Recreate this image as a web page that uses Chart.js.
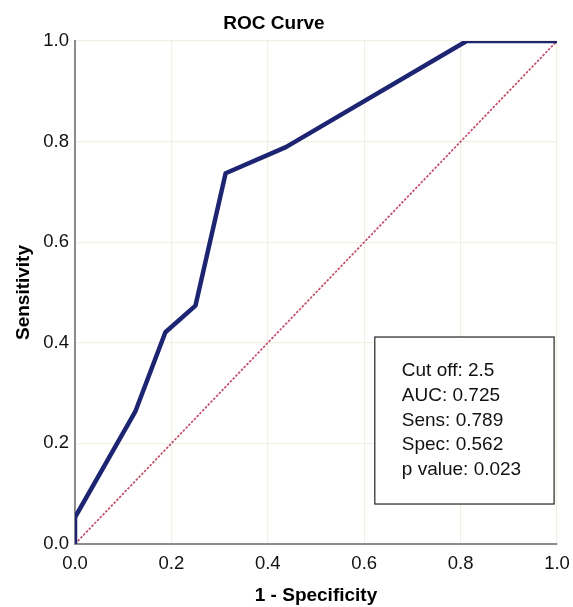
<!DOCTYPE html>
<html>
<head>
<meta charset="utf-8">
<script src="https://cdn.jsdelivr.net/npm/chart.js@4.4.1/dist/chart.umd.min.js"></script>
<style>
  html, body { margin: 0; padding: 0; background: #ffffff; }
  #wrap { width: 573px; height: 607px; position: relative; }
</style>
</head>
<body>
<div id="wrap"><canvas id="roc"></canvas></div>
<script>
// ROC curve points (1 - specificity, sensitivity)
const fpr = [0, 0, 0.125, 0.1875, 0.25, 0.3125, 0.4375, 0.8125, 1];
const tpr = [0, 0.053, 0.263, 0.421, 0.474, 0.737, 0.789, 1, 1];

// reference diagonal
const refX = [0, 1];
const refY = [0, 1];

const tickValues = [0, 0.2, 0.4, 0.6, 0.8, 1.0];
const statLines = ['Cut off: 2.5', 'AUC: 0.725', 'Sens: 0.789', 'Spec: 0.562', 'p value: 0.023'];

const FONT = "'Liberation Sans', Arial, Helvetica, sans-serif";

const toPoints = (xs, ys) => xs.map((x, i) => ({ x: x, y: ys[i] }));

// title + stats box drawn on top of the chart
const extras = {
    id: 'extras',
    afterDraw(chart) {
        const ctx = chart.ctx;
        const { x, y } = chart.scales;
        ctx.save();

        ctx.fillStyle = '#000000';
        ctx.font = 'bold 19px ' + FONT;
        ctx.textAlign = 'center';
        ctx.textBaseline = 'middle';
        ctx.fillText('ROC Curve', 274, 24);

        // stats box
        const left = x.getPixelForValue(0.622);
        const right = x.getPixelForValue(0.994);
        const top = y.getPixelForValue(0.4115);
        const bottom = y.getPixelForValue(0.0795);
        ctx.fillStyle = '#ffffff';
        ctx.fillRect(left, top, right - left, bottom - top);
        ctx.strokeStyle = '#222222';
        ctx.lineWidth = 1.2;
        ctx.strokeRect(left, top, right - left, bottom - top);

        ctx.fillStyle = '#111111';
        ctx.font = '19px ' + FONT;
        ctx.textAlign = 'left';
        statLines.forEach((t, i) => {
            ctx.fillText(t, left + 27, top + 34 + i * 24.7);
        });
        ctx.restore();
    }
};

const axisCommon = {
    type: 'linear',
    min: 0,
    max: 1,
    grid: { color: '#f2f0e4', lineWidth: 1.2, drawTicks: false },
    border: { color: '#8c8c8c', width: 2 },
};

new Chart(document.getElementById('roc'), {
    type: 'line',
    data: {
        datasets: [
            {
                label: 'ROC',
                data: toPoints(fpr, tpr),
                borderColor: '#1d2573',
                borderWidth: 4.5,
                pointRadius: 0,
                tension: 0,
                borderJoinStyle: 'round'
            },
            {
                label: 'Reference',
                data: toPoints(refX, refY),
                borderColor: '#c04d69',
                borderWidth: 1.7,
                borderDash: [2.5, 1.5],
                pointRadius: 0,
                tension: 0
            }
        ]
    },
    options: {
        responsive: true,
        maintainAspectRatio: false,
        animation: false,
        layout: { padding: { top: 41, right: 16, left: 0, bottom: 0 } },
        plugins: {
            legend: { display: false },
            tooltip: { enabled: false }
        },
        scales: {
            x: {
                ...axisCommon,
                position: 'bottom',
                afterBuildTicks: s => { s.ticks = tickValues.map(v => ({ value: v })); },
                afterFit: s => { s.height = 63; s.paddingRight = 0; s.paddingLeft = 0; },
                ticks: {
                    color: '#111111',
                    padding: 9,
                    maxRotation: 0,
                    font: { family: FONT, size: 18.5 },
                    callback: v => Number(v).toFixed(1)
                },
                title: {
                    display: true,
                    text: '1 - Specificity',
                    color: '#000000',
                    font: { family: FONT, size: 19, weight: 'bold' },
                    padding: { top: 0, bottom: 0 }
                }
            },
            y: {
                ...axisCommon,
                position: 'left',
                afterBuildTicks: s => { s.ticks = tickValues.map(v => ({ value: v })); },
                afterFit: s => { s.width = 75; s.paddingTop = 0; s.paddingBottom = 0; },
                ticks: {
                    color: '#111111',
                    padding: 6,
                    font: { family: FONT, size: 18.5 },
                    callback: v => Number(v).toFixed(1)
                },
                title: {
                    display: true,
                    text: 'Sensitivity',
                    color: '#000000',
                    font: { family: FONT, size: 19, weight: 'bold' },
                    padding: { top: 12, bottom: 0 }
                }
            }
        }
    },
    plugins: [extras]
});
</script>
</body>
</html>
